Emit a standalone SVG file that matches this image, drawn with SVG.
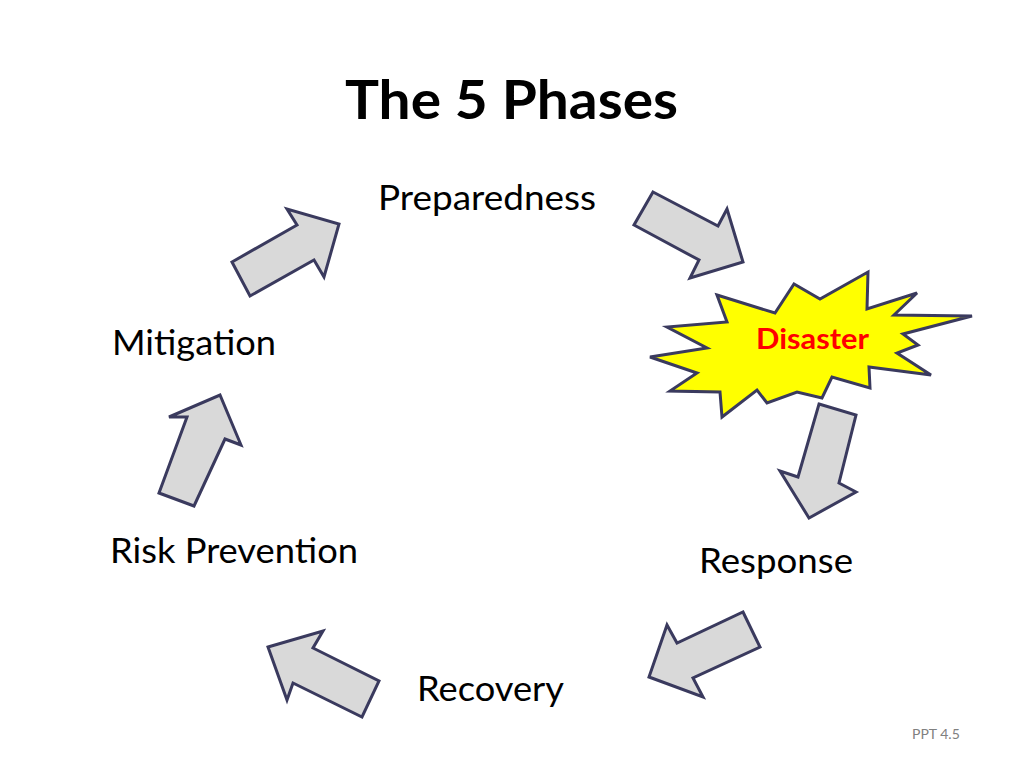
<svg xmlns="http://www.w3.org/2000/svg" width="1024" height="768" viewBox="0 0 1024 768">
<style>
.t{font-family:Lato,"Liberation Sans",sans-serif;font-size:34px;fill:#000}
.a{fill:#d9d9d9;stroke:#3a3a5e;stroke-width:3;stroke-linejoin:miter}
</style>
<rect width="1024" height="768" fill="#fff"/>
<text x="345" y="119" textLength="333" lengthAdjust="spacingAndGlyphs" font-family="Lato,'Liberation Sans',sans-serif" font-weight="bold" font-size="54">The 5 Phases</text>
<g id="preparedness"><text class="t" x="378" y="210" textLength="218" lengthAdjust="spacingAndGlyphs">Preparedness</text></g>
<g id="mitigation"><text class="t" x="112" y="355" textLength="164" lengthAdjust="spacingAndGlyphs">Mitigation</text></g>
<g id="risk-prevention"><text class="t" x="110" y="563" textLength="248" lengthAdjust="spacingAndGlyphs">Risk Prevention</text></g>
<g id="response"><text class="t" x="699" y="573" textLength="154" lengthAdjust="spacingAndGlyphs">Response</text></g>
<g id="recovery"><text class="t" x="417" y="701" textLength="147" lengthAdjust="spacingAndGlyphs">Recovery</text></g>
<g id="disaster">
<polygon fill="#ffff00" stroke="#3a3a5e" stroke-width="3" points="717,295 775,313 794,284 820,299 868,272 867,309 917,293 894,315 972,316 903,334 918,345 897,353 931,375 869,367 870,388 832,377 822,398 797,392 767,403 757,390 722,417 720,392 670,391 697,373 650,357 707,348 667,327 727,322"/>
<text x="756" y="349" textLength="113" lengthAdjust="spacingAndGlyphs" font-family="Lato,'Liberation Sans',sans-serif" font-weight="bold" font-size="28" fill="#ff0000">Disaster</text>
</g>
<g id="connectors">
<polygon class="a" points="653,192 718,226 727,209 743,262 690,278 699,260 634,225"/>
<polygon class="a" points="819,404 856,415 839,483 856,492 809,518 780,471 798,477"/>
<polygon class="a" points="743,612 760,647 693,678 703,697 649,677 667,625 677,643"/>
<polygon class="a" points="268,647 323,631 313,648 379,681 362,717 293,683 287,700"/>
<polygon class="a" points="159,493 187,417 169,417 220,395 241,445 225,439 194,506"/>
<polygon class="a" points="232,262 297,225 287,209 339,224 324,277 314,260 250,296"/>
</g>
<text x="912" y="739" font-family="Lato,'Liberation Sans',sans-serif" font-size="14" fill="#808080">PPT 4.5</text>
</svg>
